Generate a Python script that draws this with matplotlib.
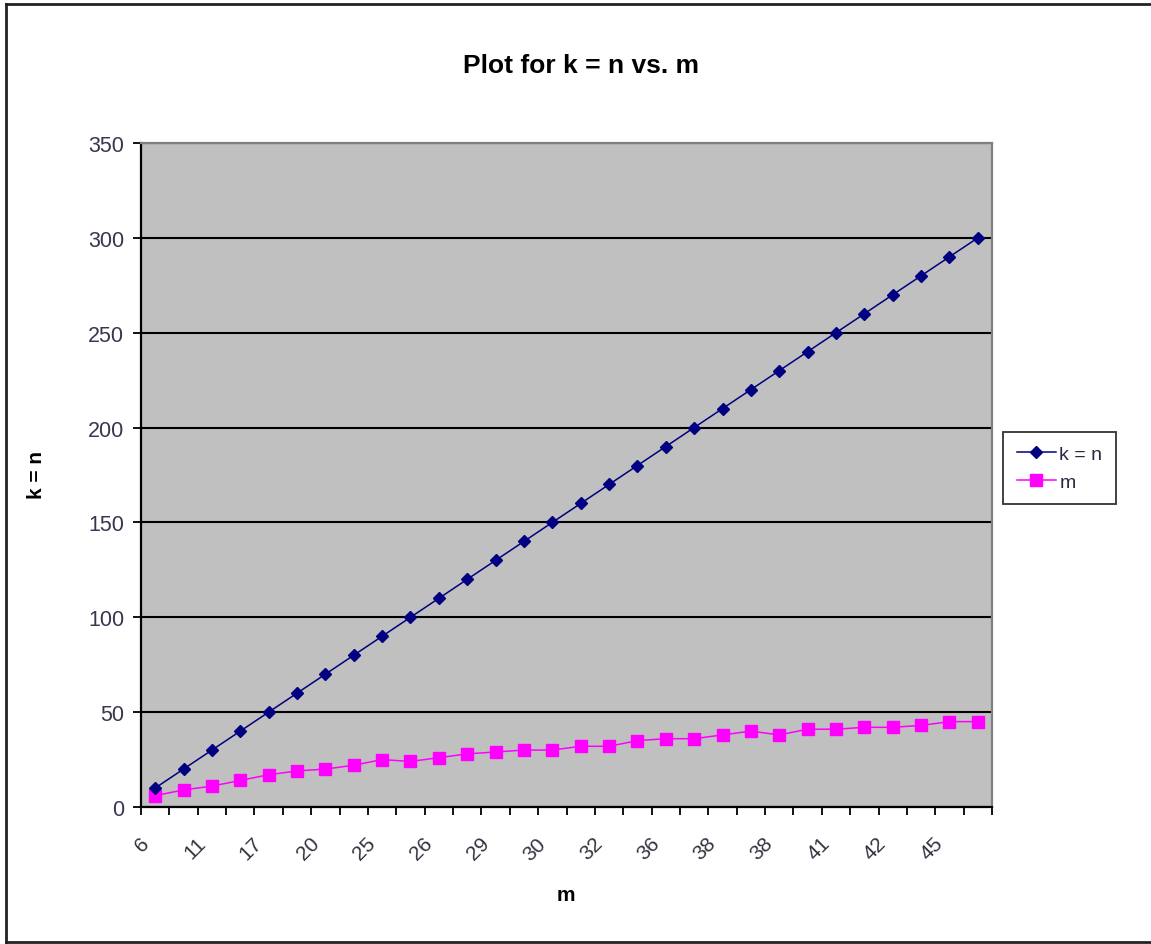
import matplotlib
matplotlib.use("Agg")
import matplotlib.pyplot as plt
import matplotlib.transforms as mtransforms
from matplotlib.lines import Line2D

plt.rcParams['font.family'] = ['Liberation Sans', 'DejaVu Sans']

# ---- data ----
k_eq_n = [10, 20, 30, 40, 50, 60, 70, 80, 90, 100,
          110, 120, 130, 140, 150, 160, 170, 180, 190, 200,
          210, 220, 230, 240, 250, 260, 270, 280, 290, 300]
m_vals = [6, 9, 11, 14, 17, 19, 20, 22, 25, 24,
          26, 28, 29, 30, 30, 32, 32, 35, 36, 36,
          38, 40, 38, 41, 41, 42, 42, 43, 45, 45]
tick_labels = ["6", "11", "17", "20", "25", "26", "29", "30",
               "32", "36", "38", "38", "41", "42", "45"]
series_names = ["k = n", "m"]

W, H = 1151, 945
fig = plt.figure(figsize=(W / 100, H / 100), dpi=100)
fig.patch.set_facecolor('white')

L, R, T, B = 141, 992, 144, 808
ax = fig.add_axes([L / W, 1 - B / H, (R - L) / W, (B - T) / H])
ax.set_facecolor('#C0C0C0')

n = len(k_eq_n)
xs = [i + 0.5 for i in range(n)]

ax.plot(xs, k_eq_n, color='#000080', lw=1.1, marker='D', markersize=6.5,
        markerfacecolor='#000080', markeredgecolor='#000080', label=series_names[0], zorder=4)
ax.plot(xs, m_vals, color='#FF00FF', lw=1.1, marker='s', markersize=8,
        markerfacecolor='#FF00FF', markeredgecolor='#FF00FF', label=series_names[1], zorder=3)

ax.set_xlim(0, n)
ax.set_ylim(0, 350)
ax.set_yticks(range(0, 351, 50))
ax.yaxis.grid(True, color='black', lw=1.5)
ax.set_axisbelow(True)

# x ticks at category boundaries, labels at every other category
ax.set_xticks(range(0, n + 1))
ax.set_xticklabels([''] * (n + 1))
ax.set_xticks([xs[i] for i in range(0, n, 2)], minor=True)
ax.set_xticklabels(tick_labels, minor=True, rotation=45, ha='right', va='top',
                   rotation_mode='anchor', fontsize=15, color='#333340')
ax.tick_params(axis='x', which='major', direction='out', length=6, width=1.3, color='black')
ax.tick_params(axis='x', which='minor', length=0, pad=19)
offset = mtransforms.ScaledTranslation(-16 / 100, 0, fig.dpi_scale_trans)
for lab in ax.get_xticklabels(minor=True):
    lab.set_transform(lab.get_transform() + offset)

ax.tick_params(axis='y', direction='out', length=6, width=1.3, color='black',
               labelsize=15.5, labelcolor='#3a3550', pad=6)

for s in ['left', 'bottom']:
    ax.spines[s].set_color('black')
    ax.spines[s].set_linewidth(1.6)
for s in ['top', 'right']:
    ax.spines[s].set_color('#808080')
    ax.spines[s].set_linewidth(1.6)

# titles and axis labels
fig.text(581 / W, 1 - 66 / H, "Plot for k = n vs. m", ha='center', va='center',
         fontsize=19, fontweight='bold', color='black')
fig.text(37 / W, 1 - 475 / H, "k = n", ha='center', va='center', rotation=90,
         fontsize=15, fontweight='bold', color='black')
fig.text(566 / W, 1 - 896 / H, "m", ha='center', va='center',
         fontsize=15, fontweight='bold', color='black')

# legend
leg = ax.legend(loc='upper left', bbox_to_anchor=(1003 / W, 1 - 433 / H),
                bbox_transform=fig.transFigure, borderaxespad=0, frameon=True,
                fancybox=False, edgecolor='black', fontsize=14, handlelength=2.0,
                handletextpad=0.2, borderpad=0.7, labelspacing=0.5)
leg.get_frame().set_linewidth(1.3)
for t in leg.get_texts():
    t.set_color('#2a2a40')

# outer border of chart area
border_kw = dict(color='#222222', lw=2, transform=fig.transFigure)
fig.add_artist(Line2D([6 / W, 6 / W], [1 - 5 / H, 1 - 943 / H], **border_kw))
fig.add_artist(Line2D([6 / W, 1.0], [1 - 5 / H, 1 - 5 / H], **border_kw))
fig.add_artist(Line2D([6 / W, 1.0], [1 - 943 / H, 1 - 943 / H], **border_kw))

fig.savefig('out.png', dpi=100, facecolor='white')
